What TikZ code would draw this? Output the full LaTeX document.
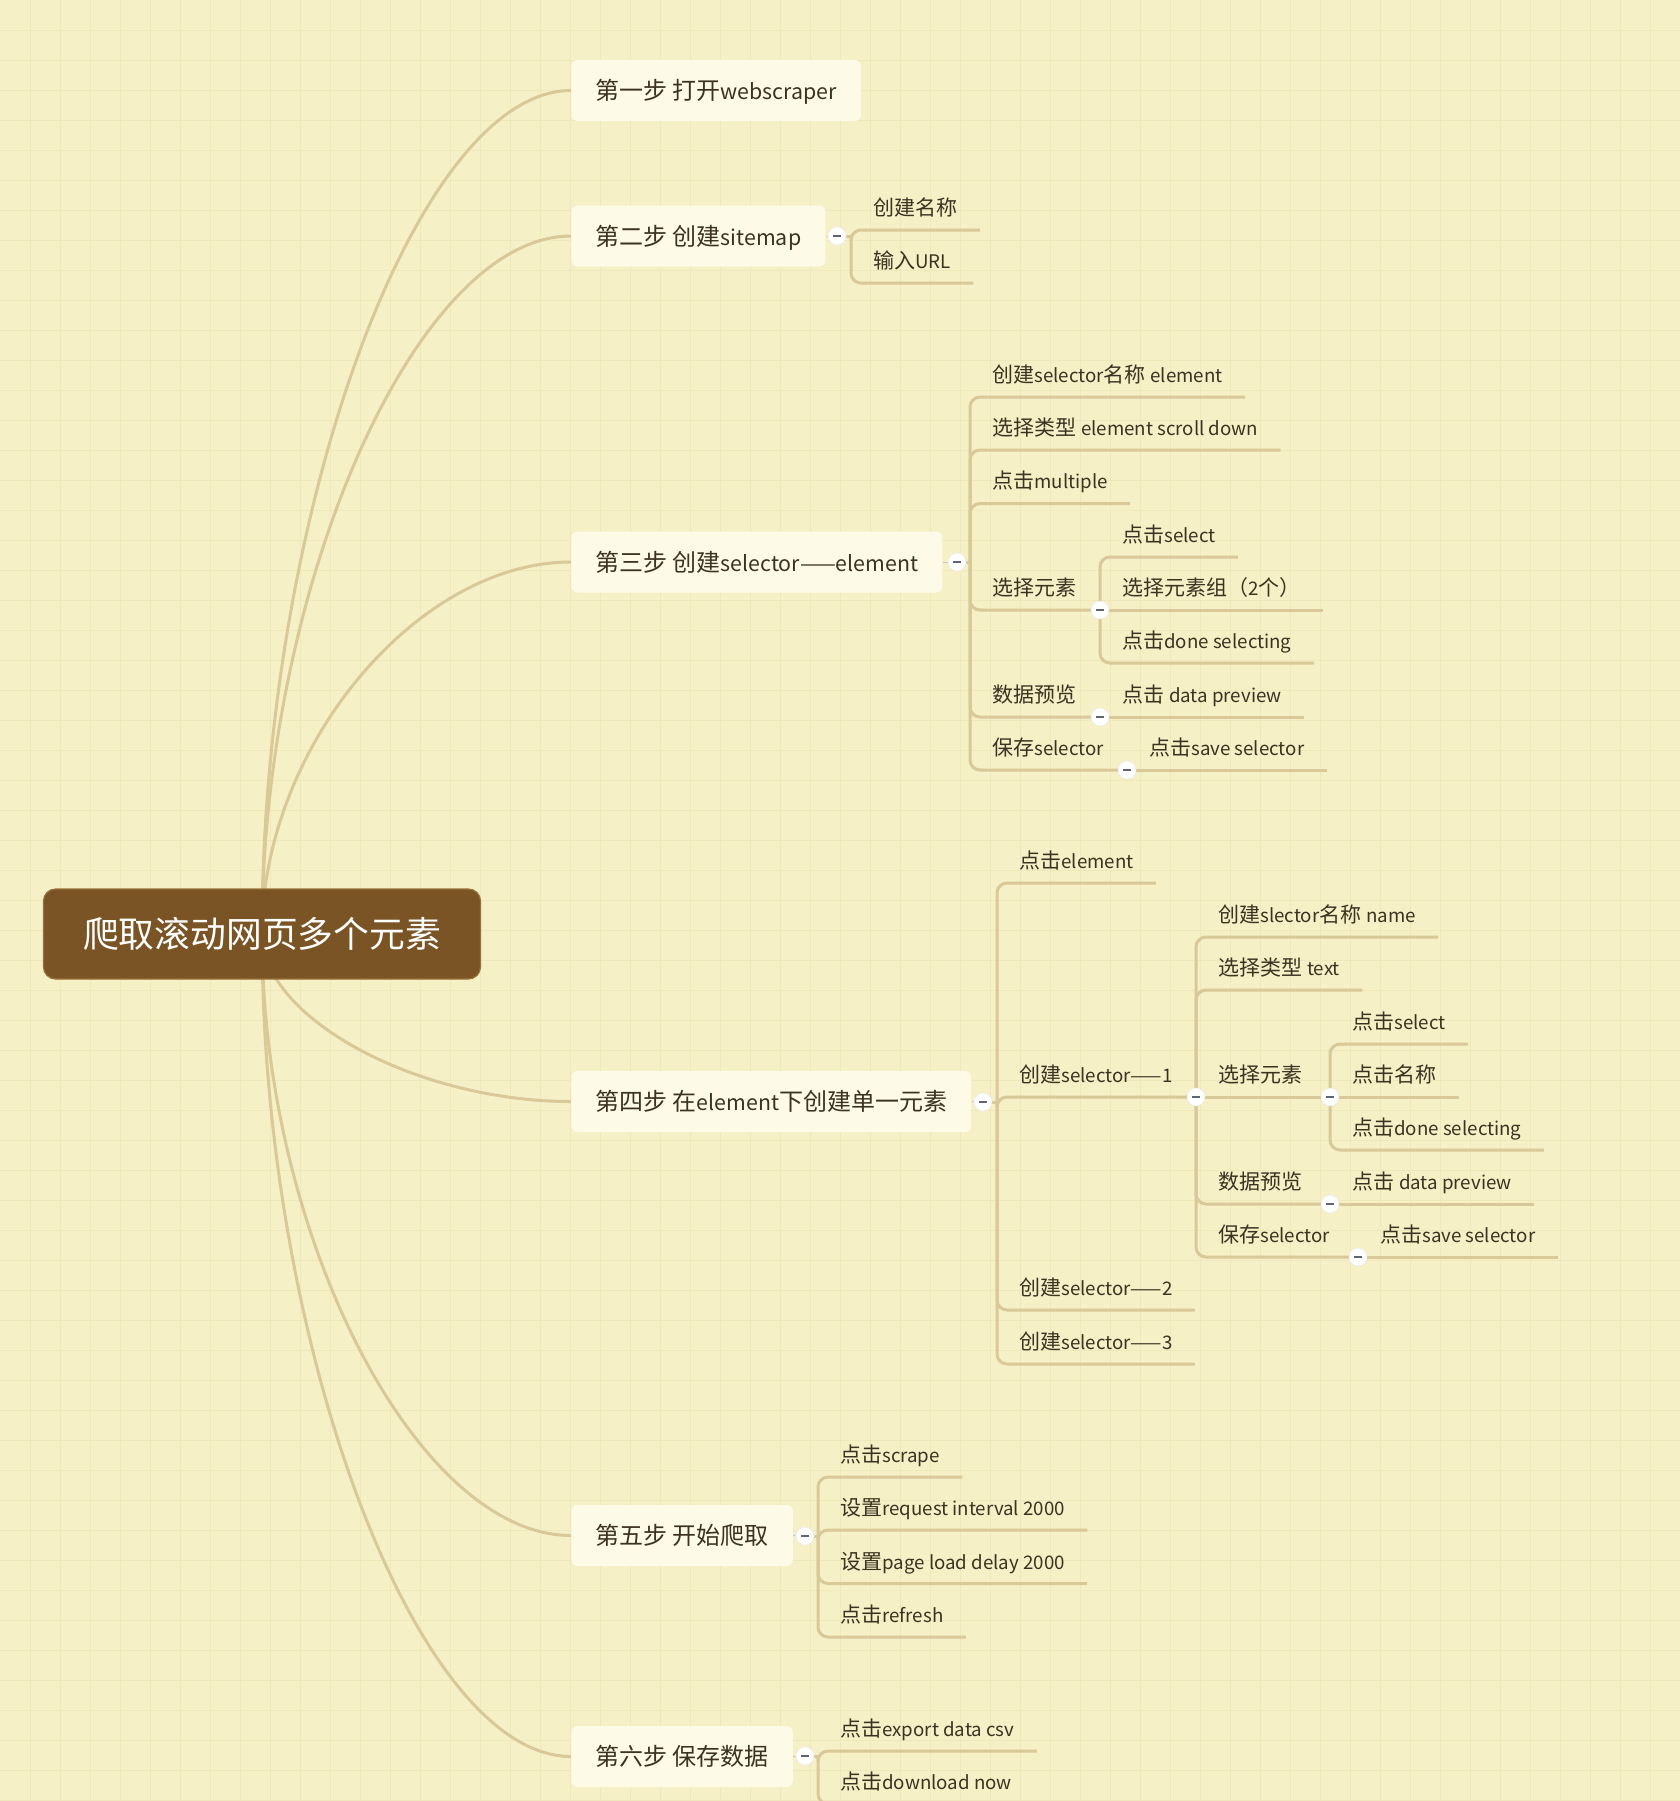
\documentclass[tikz,border=0pt]{standalone}
\usepackage{fontspec}
\setmainfont{Noto Sans CJK SC}
\newfontfamily\hanfont{Noto Sans CJK SC}
\newfontfamily\latfont[Scale=0.89]{Noto Sans CJK SC}
\usetikzlibrary{calc}

% latin runs a little narrower than the han ones
\XeTeXinterchartokenstate=1
\newXeTeXintercharclass\hanclass
\newcount\hanpos
\hanpos="4E00 \loop\ifnum\hanpos<"A000 \XeTeXcharclass\hanpos=\hanclass \advance\hanpos by 1 \repeat
\hanpos="3000 \loop\ifnum\hanpos<"3040 \XeTeXcharclass\hanpos=\hanclass \advance\hanpos by 1 \repeat
\hanpos="FF00 \loop\ifnum\hanpos<"FFF0 \XeTeXcharclass\hanpos=\hanclass \advance\hanpos by 1 \repeat
\XeTeXinterchartoks 0 \hanclass = {\hanfont}
\XeTeXinterchartoks 4095 \hanclass = {\hanfont}
\XeTeXinterchartoks \hanclass 0 = {\latfont}
\XeTeXinterchartoks 4095 0 = {\latfont}

\definecolor{paper}{RGB}{246,240,198}
\definecolor{gridc}{RGB}{239,232,186}
\definecolor{linkc}{RGB}{217,200,152}
\definecolor{boxc}{RGB}{253,250,232}
\definecolor{rootc}{RGB}{122,84,36}
\definecolor{rootedge}{RGB}{152,112,58}
\definecolor{inkc}{RGB}{60,50,34}
\definecolor{barc}{RGB}{94,100,117}

\pgfdeclarelayer{paperlayer}
\pgfdeclarelayer{linklayer}
\pgfsetlayers{paperlayer,linklayer,main}

\begin{document}
\begin{tikzpicture}[x=0.5pt,y=-0.5pt]
            \tikzset{link/.style={draw=linkc, line width=1.5pt, rounded corners=5pt}};
            \tikzset{curve/.style={draw=linkc, line width=1.5pt}};
            \tikzset{stub/.style={draw=gray!45, line width=0.5pt}};
            \tikzset{rootbox/.style={fill=rootc, draw=rootedge, line width=0.6pt, rounded corners=6pt, text=white, font=\fontsize{17.9pt}{20pt}\selectfont, minimum width=218.5pt, minimum height=45pt, text height=15.8pt, text depth=2.1pt}};
            \tikzset{topic/.style={anchor=west, fill=boxc, rounded corners=3pt, text=inkc, font=\fontsize{12pt}{14pt}\selectfont, inner xsep=12pt, minimum height=30.5pt, text height=10.56pt, text depth=1.44pt}};
            \tikzset{leaf/.style={anchor=south west, text=inkc, font=\fontsize{10.5pt}{12pt}\selectfont, inner xsep=11pt, inner ysep=5.8pt, text height=9.24pt, text depth=1.26pt}};
            \tikzset{fold/.style={circle, fill=white, draw=white!85!gray, line width=0.3pt, minimum size=9pt, inner sep=0pt,
                path picture={\draw[barc, line width=1.2pt] ($(path picture bounding box.center)+(-4,0)$) -- ($(path picture bounding box.center)+(4,0)$);}}};

            \useasboundingbox (0,0) rectangle (1680,1801);

            % paper with its grid
            \begin{pgfonlayer}{paperlayer}
            \fill[paper] (0,0) rectangle (1680,1801);
            \foreach \gx in {30,60,...,1680} \draw[gridc, line width=0.5pt] (\gx,0) -- (\gx,1801);
            \foreach \gy in {30,60,...,1800} \draw[gridc, line width=0.5pt] (0,\gy) -- (1680,\gy);
            \end{pgfonlayer}

            \node[rootbox] (root) at (262,934) {爬取滚动网页多个元素};

            \node[topic] (s1) at (571,90.5) {第一步 打开webscraper};
            \node[topic] (s2) at (571,236) {第二步 创建sitemap};
            \node[topic] (s3) at (571,562) {第三步 创建selector——element};
            \node[topic] (s4) at (571,1101.5) {第四步 在element下创建单一元素};
            \node[topic] (s5) at (571,1535.5) {第五步 开始爬取};
            \node[topic] (s6) at (571,1756.5) {第六步 保存数据};

            % step 2
            \coordinate (j2) at (851,236);
            \node[leaf] (s2a) at (851,230) {创建名称};
            \node[leaf] (s2b) at (851,283) {输入URL};

            % step 3
            \coordinate (j3) at (970,562);
            \node[leaf] (s3a) at (970,397) {创建selector名称 element};
            \node[leaf] (s3b) at (970,450) {选择类型 element scroll down};
            \node[leaf] (s3c) at (970,503.5) {点击multiple};
            \node[leaf] (s3d) at (970,610) {选择元素};
            \node[leaf] (s3e) at (970,717) {数据预览};
            \node[leaf] (s3f) at (970,770) {保存selector};
            \node[leaf] (s3d1) at (1100,557) {点击select};
            \node[leaf] (s3d2) at (1100,610) {选择元素组（2个）};
            \node[leaf] (s3d3) at (1100,663) {点击done selecting};
            \node[leaf] (s3e1) at (1100,717) {点击 data preview};
            \node[leaf] (s3f1) at (1127,770) {点击save selector};

            % step 4
            \coordinate (j4) at (997,1102);
            \node[leaf] (s4a) at (997,883) {点击element};
            \node[leaf] (s4b) at (997,1097) {创建selector——1};
            \node[leaf] (s4c) at (997,1310) {创建selector——2};
            \node[leaf] (s4d) at (997,1364) {创建selector——3};
            \node[leaf] (s4b1) at (1196,937) {创建slector名称 name};
            \node[leaf] (s4b2) at (1196,990) {选择类型 text};
            \node[leaf] (s4b3) at (1196,1097) {选择元素};
            \node[leaf] (s4b4) at (1196,1204) {数据预览};
            \node[leaf] (s4b5) at (1196,1257) {保存selector};
            \node[leaf] (s4b3a) at (1330,1044) {点击select};
            \node[leaf] (s4b3b) at (1330,1097) {点击名称};
            \node[leaf] (s4b3c) at (1330,1150) {点击done selecting};
            \node[leaf] (s4b4a) at (1330,1204) {点击 data preview};
            \node[leaf] (s4b5a) at (1358,1257) {点击save selector};

            % step 5
            \coordinate (j5) at (818,1536);
            \node[leaf] (s5a) at (818,1477) {点击scrape};
            \node[leaf] (s5b) at (818,1530) {设置request interval 2000};
            \node[leaf] (s5c) at (818,1583.5) {设置page load delay 2000};
            \node[leaf] (s5d) at (818,1637) {点击refresh};

            % step 6
            \coordinate (j6) at (818,1756);
            \node[leaf] (s6a) at (818,1751) {点击export data csv};
            \node[leaf] (s6b) at (818,1804) {点击download now};

            % fold buttons
            \node[fold] (f2) at (837,236) {};
            \node[fold] (f3) at (957,562) {};
            \node[fold] (f4) at (983,1102) {};
            \node[fold] (f5) at (805,1536) {};
            \node[fold] (f6) at (805,1756) {};
            \node[fold] (f3d) at (1100,610) {};
            \node[fold] (f3e) at (1100,717) {};
            \node[fold] (f3f) at (1127,770) {};
            \node[fold] (f4b) at (1196,1097) {};
            \node[fold] (f4b3) at (1330,1097) {};
            \node[fold] (f4b4) at (1330,1204) {};
            \node[fold] (f4b5) at (1358,1257) {};

            \begin{pgfonlayer}{linklayer}
            \foreach \s in {s1,s2,s3,s4,s5,s6}
                \draw[curve] (root.center) .. controls ($(root.center)!0.5!(root.center |- \s.west)$) and ($(\s.west)!0.5!(\s.west -| root.center)$) .. (\s.west);

            \foreach \s/\f/\j in {s2/f2/j2,s3/f3/j3,s4/f4/j4,s5/f5/j5,s6/f6/j6} {
                \draw[stub] (\s.east) -- (\f);
                \draw[link] (\f.center) -- (\j);
            }

            \foreach \c in {s2a,s2b} \draw[link] (j2) |- (\c.south east);
            \foreach \c in {s3a,s3b,s3c} \draw[link] (j3) |- (\c.south east);
            \foreach \f in {f3d,f3e,f3f} \draw[link] (j3) |- (\f.center);
            \foreach \c in {s3d1,s3d3} \draw[link] (f3d.center) |- (\c.south east);
            \draw[link] (f3d.center) -- (f3d -| s3d2.south east);
            \draw[link] (f3e.center) -- (f3e -| s3e1.south east);
            \draw[link] (f3f.center) -- (f3f -| s3f1.south east);

            \foreach \c in {s4a,s4c,s4d} \draw[link] (j4) |- (\c.south east);
            \draw[link] (j4) |- (f4b.center);
            \foreach \c in {s4b1,s4b2} \draw[link] (f4b.center) |- (\c.south east);
            \draw[link] (f4b.center) -- (f4b3.center);
            \foreach \f in {f4b4,f4b5} \draw[link] (f4b.center) |- (\f.center);
            \foreach \c in {s4b3a,s4b3c} \draw[link] (f4b3.center) |- (\c.south east);
            \draw[link] (f4b3.center) -- (f4b3 -| s4b3b.south east);
            \draw[link] (f4b4.center) -- (f4b4 -| s4b4a.south east);
            \draw[link] (f4b5.center) -- (f4b5 -| s4b5a.south east);

            \foreach \c in {s5a,s5b,s5c,s5d} \draw[link] (j5) |- (\c.south east);
            \foreach \c in {s6a,s6b} \draw[link] (j6) |- (\c.south east);
            \end{pgfonlayer}
\end{tikzpicture}
\end{document}
